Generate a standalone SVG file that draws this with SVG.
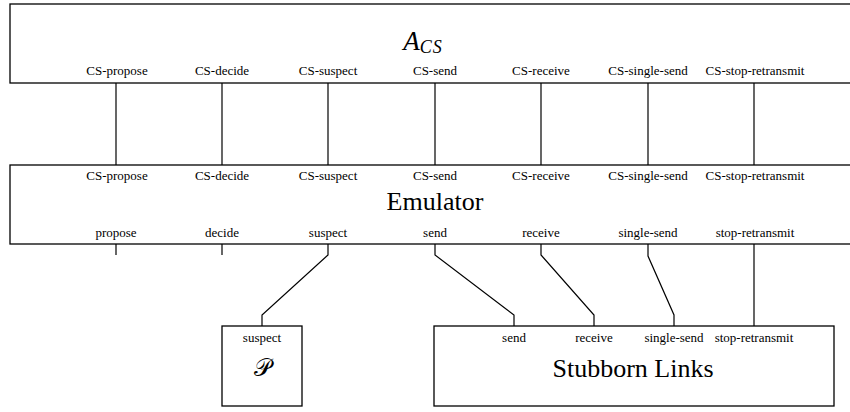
<svg xmlns="http://www.w3.org/2000/svg" width="850" height="412" viewBox="0 0 850 412">
<rect width="850" height="412" fill="#fff"/>
<g id="connectors" fill="none" stroke="#000" stroke-width="1.2">
<line x1="116" y1="83" x2="116" y2="165"/>
<line x1="222" y1="83" x2="222" y2="165"/>
<line x1="328" y1="83" x2="328" y2="165"/>
<line x1="435" y1="83" x2="435" y2="165"/>
<line x1="541" y1="83" x2="541" y2="165"/>
<line x1="648" y1="83" x2="648" y2="165"/>
<line x1="754" y1="83" x2="754" y2="165"/>
<line x1="116" y1="244" x2="116" y2="255"/>
<line x1="222" y1="244" x2="222" y2="255"/>
<polyline points="328,244 328,255 262,315 262,326"/>
<polyline points="435,244 435,255 514,315 514,326"/>
<polyline points="541,244 541,255 594,315 594,326"/>
<polyline points="648,244 648,256 674,315 674,326"/>
<line x1="754" y1="244" x2="754" y2="326"/>
</g>
<g id="acs" font-family="Liberation Serif, serif" font-size="13" text-anchor="middle" fill="#000">
<rect x="10" y="4" width="850" height="79" fill="#fff" stroke="#000" stroke-width="1.3"/>
<text x="423" y="50" font-style="italic" font-size="27">A<tspan font-size="18" dy="3" letter-spacing="1">CS</tspan></text>
<text x="117" y="75">CS-propose</text>
<text x="222" y="75">CS-decide</text>
<text x="328" y="75">CS-suspect</text>
<text x="435" y="75">CS-send</text>
<text x="541" y="75">CS-receive</text>
<text x="648" y="75">CS-single-send</text>
<text x="755" y="75">CS-stop-retransmit</text>
</g>
<g id="emulator" font-family="Liberation Serif, serif" font-size="13" text-anchor="middle" fill="#000">
<rect x="10" y="165" width="850" height="79" fill="#fff" stroke="#000" stroke-width="1.3"/>
<text x="117" y="180">CS-propose</text>
<text x="222" y="180">CS-decide</text>
<text x="328" y="180">CS-suspect</text>
<text x="435" y="180">CS-send</text>
<text x="541" y="180">CS-receive</text>
<text x="648" y="180">CS-single-send</text>
<text x="755" y="180">CS-stop-retransmit</text>
<text x="435" y="210" font-size="26">Emulator</text>
<text x="116" y="237">propose</text>
<text x="222" y="237">decide</text>
<text x="328" y="237">suspect</text>
<text x="435" y="237">send</text>
<text x="541" y="237">receive</text>
<text x="648" y="237">single-send</text>
<text x="755" y="237">stop-retransmit</text>
</g>
<g id="p" font-family="Liberation Serif, serif" font-size="13" text-anchor="middle" fill="#000">
<rect x="222" y="326" width="80" height="80" fill="#fff" stroke="#000" stroke-width="1.3"/>
<text x="262" y="342">suspect</text>
<text x="262" y="376" font-size="24">𝒫</text>
</g>
<g id="stubborn" font-family="Liberation Serif, serif" font-size="13" text-anchor="middle" fill="#000">
<rect x="434" y="326" width="400" height="80" fill="#fff" stroke="#000" stroke-width="1.3"/>
<text x="514" y="342">send</text>
<text x="594" y="342">receive</text>
<text x="674" y="342">single-send</text>
<text x="754" y="342">stop-retransmit</text>
<text x="633" y="377" font-size="26">Stubborn Links</text>
</g>
</svg>
